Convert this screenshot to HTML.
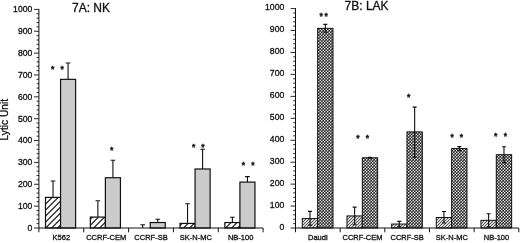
<!DOCTYPE html>
<html><head><meta charset="utf-8"><title>Lytic Unit</title>
<style>html,body{margin:0;padding:0;background:#fff;}svg{display:block;}text{font-family:"Liberation Sans", sans-serif;fill:#111;stroke:#111;stroke-width:0.3px;}</style>
</head><body>
<svg width="520" height="243" viewBox="0 0 520 243">
<defs>
<pattern id="h1" width="6" height="6" patternUnits="userSpaceOnUse"><rect width="6" height="6" fill="#fff"/><path d="M-1,4.6 L4.6,-1 M2.6,7 L7,2.6" stroke="#222" stroke-width="1.25"/></pattern>
<pattern id="h2" width="3" height="3" patternUnits="userSpaceOnUse"><rect width="3" height="3" fill="#2e2e2e"/><path d="M-1,2.5 L2.5,-1 M0.5,4 L4,0.5" stroke="#f4f4f4" stroke-width="1.3"/></pattern>
<pattern id="x1" width="3" height="3" patternUnits="userSpaceOnUse"><rect width="3" height="3" fill="#262626"/><circle cx="0.75" cy="0.75" r="0.78" fill="#f4f4f4"/><circle cx="2.25" cy="2.25" r="0.78" fill="#f4f4f4"/></pattern>
</defs>
<rect width="520" height="243" fill="#fff"/>
<rect x="45.50" y="197.40" width="15.05" height="30.60" fill="url(#h1)" stroke="#111" stroke-width="1.2"/>
<path d="M53.02,197.40 V181.00 M50.73,181.00 H55.32" stroke="#111" stroke-width="1.1" fill="none"/>
<rect x="60.55" y="79.35" width="15.05" height="148.65" fill="#cbcbcb" stroke="#111" stroke-width="1.2"/>
<path d="M68.08,79.35 V62.96 M65.78,62.96 H70.38" stroke="#111" stroke-width="1.1" fill="none"/>
<text x="52.70" y="72.30" font-size="8.5" text-anchor="middle" font-weight="bold" stroke="none">*</text>
<text x="62.20" y="72.30" font-size="8.5" text-anchor="middle" font-weight="bold" stroke="none">*</text>
<text x="61.32" y="240.2" font-size="7.5" text-anchor="middle">K562</text>
<rect x="90.34" y="217.07" width="15.05" height="10.93" fill="url(#h1)" stroke="#111" stroke-width="1.2"/>
<path d="M97.87,217.07 V200.68 M95.57,200.68 H100.17" stroke="#111" stroke-width="1.1" fill="none"/>
<rect x="105.39" y="177.72" width="15.05" height="50.28" fill="#cbcbcb" stroke="#111" stroke-width="1.2"/>
<path d="M112.92,177.72 V160.23 M110.62,160.23 H115.22" stroke="#111" stroke-width="1.1" fill="none"/>
<text x="111.70" y="153.20" font-size="8.5" text-anchor="middle" font-weight="bold" stroke="none">*</text>
<text x="106.16" y="240.2" font-size="7.5" text-anchor="middle">CCRF-CEM</text>
<path d="M142.71,228.00 V224.72 M140.41,224.72 H145.01" stroke="#111" stroke-width="1.1" fill="none"/>
<rect x="150.23" y="222.53" width="15.05" height="5.47" fill="#cbcbcb" stroke="#111" stroke-width="1.2"/>
<path d="M157.76,222.53 V219.26 M155.46,219.26 H160.06" stroke="#111" stroke-width="1.1" fill="none"/>
<text x="151.00" y="240.2" font-size="7.5" text-anchor="middle">CCRF-SB</text>
<rect x="180.02" y="223.41" width="15.05" height="4.59" fill="url(#h1)" stroke="#111" stroke-width="1.2"/>
<path d="M187.55,223.41 V203.74 M185.25,203.74 H189.85" stroke="#111" stroke-width="1.1" fill="none"/>
<rect x="195.07" y="168.98" width="15.05" height="59.02" fill="#cbcbcb" stroke="#111" stroke-width="1.2"/>
<path d="M202.60,168.98 V149.30 M200.30,149.30 H204.90" stroke="#111" stroke-width="1.1" fill="none"/>
<text x="193.70" y="149.70" font-size="8.5" text-anchor="middle" font-weight="bold" stroke="none">*</text>
<text x="203.00" y="149.70" font-size="8.5" text-anchor="middle" font-weight="bold" stroke="none">*</text>
<text x="195.84" y="240.2" font-size="7.5" text-anchor="middle">SK-N-MC</text>
<rect x="224.86" y="222.53" width="15.05" height="5.47" fill="url(#h1)" stroke="#111" stroke-width="1.2"/>
<path d="M232.39,222.53 V217.29 M230.09,217.29 H234.69" stroke="#111" stroke-width="1.1" fill="none"/>
<rect x="239.91" y="182.09" width="15.05" height="45.91" fill="#cbcbcb" stroke="#111" stroke-width="1.2"/>
<path d="M247.44,182.09 V176.63 M245.14,176.63 H249.74" stroke="#111" stroke-width="1.1" fill="none"/>
<text x="243.30" y="168.40" font-size="8.5" text-anchor="middle" font-weight="bold" stroke="none">*</text>
<text x="252.90" y="168.40" font-size="8.5" text-anchor="middle" font-weight="bold" stroke="none">*</text>
<text x="240.68" y="240.2" font-size="7.5" text-anchor="middle">NB-100</text>
<path d="M38.90,8.90 V228.00 H263.10" stroke="#111" stroke-width="1" fill="none"/>
<path d="M38.90,228.00 h-4.90 M38.90,223.63 h-2.30 M38.90,219.26 h-2.30 M38.90,214.88 h-2.30 M38.90,210.51 h-2.30 M38.90,206.14 h-4.90 M38.90,201.77 h-2.30 M38.90,197.40 h-2.30 M38.90,193.02 h-2.30 M38.90,188.65 h-2.30 M38.90,184.28 h-4.90 M38.90,179.91 h-2.30 M38.90,175.54 h-2.30 M38.90,171.16 h-2.30 M38.90,166.79 h-2.30 M38.90,162.42 h-4.90 M38.90,158.05 h-2.30 M38.90,153.68 h-2.30 M38.90,149.30 h-2.30 M38.90,144.93 h-2.30 M38.90,140.56 h-4.90 M38.90,136.19 h-2.30 M38.90,131.82 h-2.30 M38.90,127.44 h-2.30 M38.90,123.07 h-2.30 M38.90,118.70 h-4.90 M38.90,114.33 h-2.30 M38.90,109.96 h-2.30 M38.90,105.58 h-2.30 M38.90,101.21 h-2.30 M38.90,96.84 h-4.90 M38.90,92.47 h-2.30 M38.90,88.10 h-2.30 M38.90,83.72 h-2.30 M38.90,79.35 h-2.30 M38.90,74.98 h-4.90 M38.90,70.61 h-2.30 M38.90,66.24 h-2.30 M38.90,61.86 h-2.30 M38.90,57.49 h-2.30 M38.90,53.12 h-4.90 M38.90,48.75 h-2.30 M38.90,44.38 h-2.30 M38.90,40.00 h-2.30 M38.90,35.63 h-2.30 M38.90,31.26 h-4.90 M38.90,26.89 h-2.30 M38.90,22.52 h-2.30 M38.90,18.14 h-2.30 M38.90,13.77 h-2.30 M38.90,9.40 h-4.90" stroke="#111" stroke-width="0.9" fill="none"/>
<text x="32.30" y="231.10" font-size="8.65" text-anchor="end">0</text>
<text x="32.30" y="209.18" font-size="8.65" text-anchor="end">100</text>
<text x="32.30" y="187.26" font-size="8.65" text-anchor="end">200</text>
<text x="32.30" y="165.34" font-size="8.65" text-anchor="end">300</text>
<text x="32.30" y="143.42" font-size="8.65" text-anchor="end">400</text>
<text x="32.30" y="121.50" font-size="8.65" text-anchor="end">500</text>
<text x="32.30" y="99.58" font-size="8.65" text-anchor="end">600</text>
<text x="32.30" y="77.66" font-size="8.65" text-anchor="end">700</text>
<text x="32.30" y="55.74" font-size="8.65" text-anchor="end">800</text>
<text x="32.30" y="33.82" font-size="8.65" text-anchor="end">900</text>
<text x="32.30" y="11.90" font-size="8.65" text-anchor="end">1000</text>
<path d="M38.90,228.00 v4.3 M83.74,228.00 v4.3 M128.58,228.00 v4.3 M173.42,228.00 v4.3 M218.26,228.00 v4.3 M263.10,228.00 v4.3" stroke="#111" stroke-width="1" fill="none"/>
<text x="72.00" y="12.30" font-size="12" stroke-width="0.1">7A: NK</text>
<rect x="302.30" y="218.57" width="15.35" height="9.43" fill="url(#h2)" stroke="#111" stroke-width="1"/>
<path d="M309.98,225.15 V211.33 M307.98,211.33 H311.98 M307.98,225.15 H311.98" stroke="#111" stroke-width="1.1" fill="none"/>
<rect x="317.65" y="28.35" width="15.35" height="199.65" fill="url(#x1)" stroke="#111" stroke-width="1"/>
<path d="M325.33,32.30 V24.40 M323.33,24.40 H327.33 M323.33,32.30 H327.33" stroke="#111" stroke-width="1.1" fill="none"/>
<text x="321.20" y="19.10" font-size="8.5" text-anchor="middle" font-weight="bold" stroke="none">*</text>
<text x="326.20" y="19.10" font-size="8.5" text-anchor="middle" font-weight="bold" stroke="none">*</text>
<text x="317.83" y="240.2" font-size="7.5" text-anchor="middle">Daudi</text>
<rect x="346.96" y="215.93" width="15.35" height="12.07" fill="url(#h2)" stroke="#111" stroke-width="1"/>
<path d="M354.63,224.71 V207.16 M352.63,207.16 H356.63 M352.63,224.71 H356.63" stroke="#111" stroke-width="1.1" fill="none"/>
<rect x="362.31" y="157.79" width="15.35" height="70.21" fill="url(#x1)" stroke="#111" stroke-width="1"/>
<path d="M369.99,158.23 V157.35 M367.99,157.35 H371.99 M367.99,158.23 H371.99" stroke="#111" stroke-width="1.1" fill="none"/>
<text x="357.80" y="141.40" font-size="8.5" text-anchor="middle" font-weight="bold" stroke="none">*</text>
<text x="367.30" y="141.40" font-size="8.5" text-anchor="middle" font-weight="bold" stroke="none">*</text>
<text x="362.49" y="240.2" font-size="7.5" text-anchor="middle">CCRF-CEM</text>
<rect x="391.62" y="224.05" width="15.35" height="3.95" fill="url(#h2)" stroke="#111" stroke-width="1"/>
<path d="M399.30,226.68 V221.42 M397.30,221.42 H401.30 M397.30,226.68 H401.30" stroke="#111" stroke-width="1.1" fill="none"/>
<rect x="406.97" y="131.90" width="15.35" height="96.10" fill="url(#x1)" stroke="#111" stroke-width="1"/>
<path d="M414.65,157.13 V107.11 M412.65,107.11 H416.65 M412.65,157.13 H416.65" stroke="#111" stroke-width="1.1" fill="none"/>
<text x="408.70" y="99.90" font-size="8.5" text-anchor="middle" font-weight="bold" stroke="none">*</text>
<text x="407.15" y="240.2" font-size="7.5" text-anchor="middle">CCRF-SB</text>
<rect x="436.28" y="217.47" width="15.35" height="10.53" fill="url(#h2)" stroke="#111" stroke-width="1"/>
<path d="M443.95,222.95 V211.55 M441.95,211.55 H445.95 M441.95,222.95 H445.95" stroke="#111" stroke-width="1.1" fill="none"/>
<rect x="451.63" y="148.58" width="15.35" height="79.42" fill="url(#x1)" stroke="#111" stroke-width="1"/>
<path d="M459.31,150.55 V146.60 M457.31,146.60 H461.31 M457.31,150.55 H461.31" stroke="#111" stroke-width="1.1" fill="none"/>
<text x="452.10" y="140.00" font-size="8.5" text-anchor="middle" font-weight="bold" stroke="none">*</text>
<text x="461.50" y="140.00" font-size="8.5" text-anchor="middle" font-weight="bold" stroke="none">*</text>
<text x="451.81" y="240.2" font-size="7.5" text-anchor="middle">SK-N-MC</text>
<rect x="480.94" y="220.32" width="15.35" height="7.68" fill="url(#h2)" stroke="#111" stroke-width="1"/>
<path d="M488.62,226.90 V213.74 M486.62,213.74 H490.62 M486.62,226.90 H490.62" stroke="#111" stroke-width="1.1" fill="none"/>
<rect x="496.29" y="154.72" width="15.35" height="73.28" fill="url(#x1)" stroke="#111" stroke-width="1"/>
<path d="M503.97,162.62 V146.82 M501.97,146.82 H505.97 M501.97,162.62 H505.97" stroke="#111" stroke-width="1.1" fill="none"/>
<text x="495.70" y="138.80" font-size="8.5" text-anchor="middle" font-weight="bold" stroke="none">*</text>
<text x="505.30" y="138.80" font-size="8.5" text-anchor="middle" font-weight="bold" stroke="none">*</text>
<text x="496.47" y="240.2" font-size="7.5" text-anchor="middle">NB-100</text>
<path d="M295.50,8.10 V228.00 H518.80" stroke="#111" stroke-width="1" fill="none"/>
<path d="M295.50,228.00 h-4.90 M295.50,223.61 h-2.30 M295.50,219.22 h-2.30 M295.50,214.84 h-2.30 M295.50,210.45 h-2.30 M295.50,206.06 h-4.90 M295.50,201.67 h-2.30 M295.50,197.28 h-2.30 M295.50,192.90 h-2.30 M295.50,188.51 h-2.30 M295.50,184.12 h-4.90 M295.50,179.73 h-2.30 M295.50,175.34 h-2.30 M295.50,170.96 h-2.30 M295.50,166.57 h-2.30 M295.50,162.18 h-4.90 M295.50,157.79 h-2.30 M295.50,153.40 h-2.30 M295.50,149.02 h-2.30 M295.50,144.63 h-2.30 M295.50,140.24 h-4.90 M295.50,135.85 h-2.30 M295.50,131.46 h-2.30 M295.50,127.08 h-2.30 M295.50,122.69 h-2.30 M295.50,118.30 h-4.90 M295.50,113.91 h-2.30 M295.50,109.52 h-2.30 M295.50,105.14 h-2.30 M295.50,100.75 h-2.30 M295.50,96.36 h-4.90 M295.50,91.97 h-2.30 M295.50,87.58 h-2.30 M295.50,83.20 h-2.30 M295.50,78.81 h-2.30 M295.50,74.42 h-4.90 M295.50,70.03 h-2.30 M295.50,65.64 h-2.30 M295.50,61.26 h-2.30 M295.50,56.87 h-2.30 M295.50,52.48 h-4.90 M295.50,48.09 h-2.30 M295.50,43.70 h-2.30 M295.50,39.32 h-2.30 M295.50,34.93 h-2.30 M295.50,30.54 h-4.90 M295.50,26.15 h-2.30 M295.50,21.76 h-2.30 M295.50,17.38 h-2.30 M295.50,12.99 h-2.30 M295.50,8.60 h-4.90" stroke="#111" stroke-width="0.9" fill="none"/>
<text x="284.30" y="230.30" font-size="8.7" text-anchor="end">0</text>
<text x="284.30" y="208.28" font-size="8.7" text-anchor="end">100</text>
<text x="284.30" y="186.26" font-size="8.7" text-anchor="end">200</text>
<text x="284.30" y="164.24" font-size="8.7" text-anchor="end">300</text>
<text x="284.30" y="142.22" font-size="8.7" text-anchor="end">400</text>
<text x="284.30" y="120.20" font-size="8.7" text-anchor="end">500</text>
<text x="284.30" y="98.18" font-size="8.7" text-anchor="end">600</text>
<text x="284.30" y="76.16" font-size="8.7" text-anchor="end">700</text>
<text x="284.30" y="54.14" font-size="8.7" text-anchor="end">800</text>
<text x="284.30" y="32.12" font-size="8.7" text-anchor="end">900</text>
<text x="284.30" y="10.10" font-size="8.7" text-anchor="end">1000</text>
<path d="M295.50,228.00 v4.3 M340.16,228.00 v4.3 M384.82,228.00 v4.3 M429.48,228.00 v4.3 M474.14,228.00 v4.3 M518.80,228.00 v4.3" stroke="#111" stroke-width="1" fill="none"/>
<text x="344.60" y="10.10" font-size="12" stroke-width="0.1">7B: LAK</text>
<text transform="translate(8.1,119.7) rotate(-90)" font-size="10.2" text-anchor="middle">Lytic Unit</text>
</svg>
</body></html>
